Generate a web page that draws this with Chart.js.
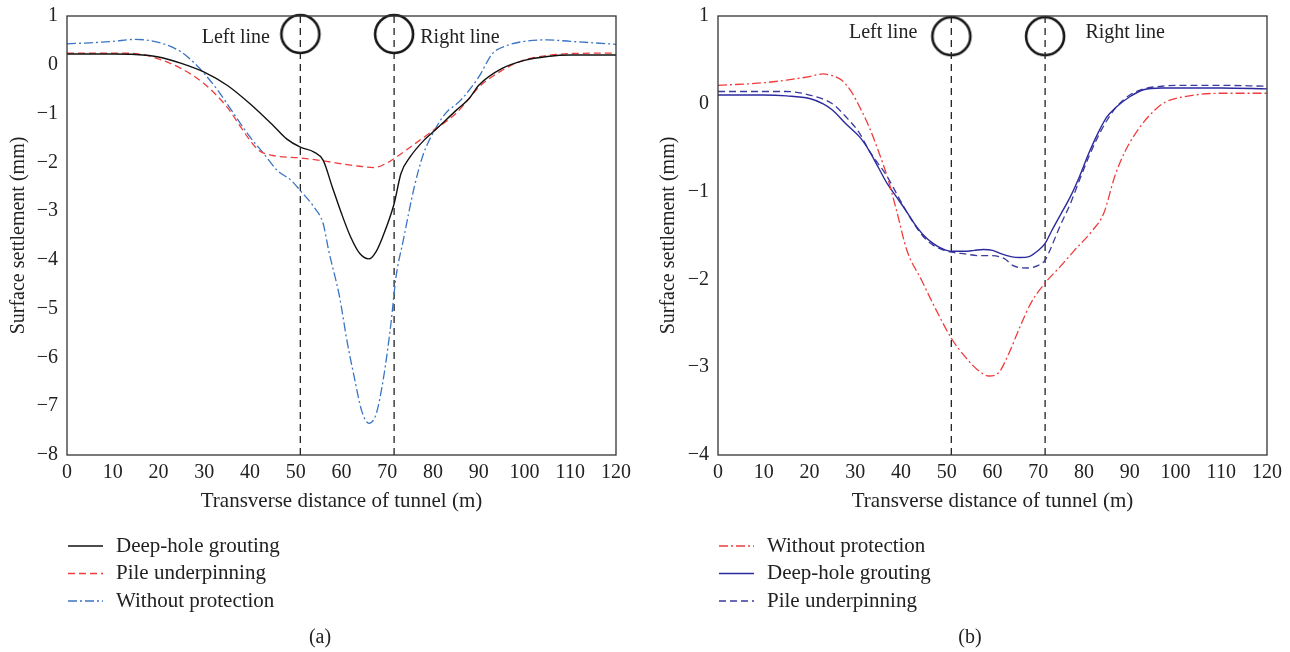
<!DOCTYPE html>
<html>
<head>
<meta charset="utf-8">
<script src="https://cdn.jsdelivr.net/npm/chart.js@4.4.1/dist/chart.umd.min.js"></script>
<style>
  body { margin: 0; background: #fff; }
  .box { position: absolute; top: 0; width: 640px; height: 652px; }
</style>
</head>
<body>
<div class="box" style="left:0"><canvas id="chartA" width="640" height="652"></canvas></div>
<div class="box" style="left:650px"><canvas id="chartB" width="640" height="652"></canvas></div>
<script>
// ---- (a) ----
var xA_deep = [0,10,15,20,25,30,35,40,45,48,51,54,56,58,60,62,64,66,67.5,69,71.5,73,75,78,80,85,88,90,95,100,105,110,120];
var yA_deep = [0.22,0.22,0.21,0.16,0.03,-0.15,-0.42,-0.80,-1.24,-1.52,-1.69,-1.79,-1.96,-2.51,-3.05,-3.53,-3.87,-3.98,-3.84,-3.53,-2.85,-2.23,-1.89,-1.55,-1.38,-0.94,-0.68,-0.42,-0.08,0.09,0.17,0.20,0.20];

var xA_pile = [0,10,15,20,25,30,35,38,40,42,45,51,56,60,64,67,70,72,75,80,85,88,90,95,100,105,110,120];
var yA_pile = [0.24,0.24,0.23,0.12,-0.08,-0.39,-0.87,-1.28,-1.55,-1.76,-1.86,-1.91,-1.97,-2.03,-2.08,-2.11,-2.01,-1.89,-1.69,-1.35,-1.00,-0.68,-0.46,-0.12,0.10,0.19,0.23,0.24];

var xA_none = [0,5,10,15,20,25,28,30,33,36,40,43,46,49,51,54,56,57.2,59.6,61.2,62.8,64.4,66,67.6,69.2,70.8,71.9,73.5,75.9,77.9,80.3,82.7,86,90,93,96.3,100,105,110,120];
var yA_none = [0.43,0.45,0.48,0.52,0.46,0.26,0.02,-0.18,-0.53,-0.94,-1.48,-1.82,-2.17,-2.37,-2.58,-2.92,-3.26,-3.81,-4.77,-5.66,-6.41,-7.09,-7.35,-7.15,-6.41,-5.31,-4.36,-3.6,-2.51,-1.83,-1.35,-1.00,-0.73,-0.25,0.23,0.40,0.48,0.51,0.48,0.42];

// ---- (b) ----
var xB_none = [0,10,15,20,23,25,27,29,31,33,35,37,39,41.3,44.5,47.7,51,54,57.2,59.2,61.2,63.6,66,68.4,71.5,74.7,77.9,81.9,84.3,86.7,89.1,92.3,95.5,97.8,101.8,109.8,120];
var yB_none = [0.21,0.24,0.27,0.31,0.34,0.32,0.27,0.15,-0.04,-0.26,-0.53,-0.83,-1.21,-1.67,-2.01,-2.35,-2.67,-2.88,-3.05,-3.10,-3.07,-2.84,-2.54,-2.27,-2.04,-1.86,-1.67,-1.44,-1.25,-0.83,-0.53,-0.26,-0.07,0.02,0.08,0.12,0.12];

var xB_deep = [0,10,15,20,23,25,28,31,33,35,37,39,41,43,45,47,49,51,54,56,58,60,62,64,66,68,70,71.5,73,75,77,79,81,83,85,87,90,93,97,100,110,120];
var yB_deep = [0.10,0.10,0.09,0.06,0.00,-0.07,-0.23,-0.38,-0.53,-0.72,-0.91,-1.06,-1.21,-1.37,-1.50,-1.59,-1.65,-1.68,-1.68,-1.67,-1.66,-1.67,-1.71,-1.74,-1.75,-1.74,-1.67,-1.59,-1.44,-1.25,-1.06,-0.83,-0.57,-0.34,-0.15,-0.04,0.08,0.16,0.18,0.18,0.18,0.17];

var xB_pile = [0,10,15,20,25,28,31,33,35,37,39,41,43,45,47,49,51,54,57,60,62.8,64.4,67.6,70,71.5,72.7,74.7,77,79,81,83,85,87,90,93,97,100,110,120];
var yB_pile = [0.14,0.14,0.14,0.10,0.00,-0.15,-0.34,-0.53,-0.68,-0.83,-1.02,-1.21,-1.38,-1.52,-1.61,-1.66,-1.69,-1.71,-1.73,-1.73,-1.77,-1.84,-1.87,-1.84,-1.78,-1.65,-1.40,-1.14,-0.87,-0.61,-0.38,-0.19,-0.04,0.10,0.17,0.20,0.21,0.21,0.20];

// tunnel lines and labels
var tunnelX = [51, 71.5];
var lineNames = ['Left line', 'Right line'];
var xTicks = [0,10,20,30,40,50,60,70,80,90,100,110,120];

var FONT = '"Liberation Serif", "DejaVu Serif", serif';

// ring marker for the tunnel positions (image point style keeps the chart area padding small)
var ring = document.createElement('canvas');
ring.width = 44; ring.height = 44;
(function() {
  var g = ring.getContext('2d');
  g.strokeStyle = '#151515'; g.lineWidth = 2.6;
  g.beginPath(); g.arc(22, 22, 19, 0, Math.PI * 2); g.stroke();
})();

function pts(xs, ys) {
  var out = [];
  for (var i = 0; i < xs.length; i++) out.push({x: xs[i], y: ys[i]});
  return out;
}

function series(label, xs, ys, color, dash, width) {
  return {
    label: label, data: pts(xs, ys), showLine: true,
    borderColor: color, borderDash: dash, borderWidth: width,
    pointRadius: 0, cubicInterpolationMode: 'monotone', legend: true
  };
}

function tunnelSets(yTop, yBot, yCircle) {
  var sets = [];
  tunnelX.forEach(function(x) {
    sets.push({data: [{x: x, y: yTop}, {x: x, y: yBot}], showLine: true,
      borderColor: '#222', borderDash: [7, 5], borderWidth: 1.3, pointRadius: 0});
  });
  sets.push({data: tunnelX.map(function(x) { return {x: x, y: yCircle}; }),
    showLine: false, pointStyle: ring, pointRadius: 2, borderWidth: 0, clip: false});
  return sets;
}

// frame, line names, legend and caption
var decor = {
  id: 'decor',
  afterDraw: function(chart) {
    var c = chart.ctx, a = chart.chartArea, o = chart.options.plugins.decor;
    c.save();
    c.strokeStyle = '#333'; c.lineWidth = 1.3; c.setLineDash([]);
    c.strokeRect(a.left, a.top, a.right - a.left, a.bottom - a.top);
    c.fillStyle = '#222';
    c.font = '20px ' + FONT;
    c.textAlign = 'center'; c.textBaseline = 'middle';
    o.notes.forEach(function(n) {
      c.fillText(n.text, chart.scales.x.getPixelForValue(n.x), chart.scales.y.getPixelForValue(n.y));
    });
    c.font = '21px ' + FONT;
    c.textAlign = 'left';
    var k = 0;
    chart.data.datasets.forEach(function(ds) {
      if (!ds.legend) return;
      var y = o.legendY + k * o.legendGap;
      c.strokeStyle = ds.borderColor; c.lineWidth = ds.borderWidth;
      c.setLineDash(ds.borderDash || []);
      c.beginPath(); c.moveTo(o.legendX, y); c.lineTo(o.legendX + 35, y); c.stroke();
      c.fillText(ds.label, o.legendX + 48, y);
      k++;
    });
    c.font = '20px ' + FONT;
    c.textAlign = 'center';
    c.fillText(o.caption, o.captionX, o.captionY);
    c.restore();
  }
};

function fmt(v) { return String(v).replace('-', '\u2212'); }

function makeChart(id, datasets, yMin, yMax, yWidth, padRight, notes, caption) {
  return new Chart(document.getElementById(id), {
    type: 'scatter',
    data: {datasets: datasets},
    plugins: [decor],
    options: {
      responsive: false, animation: false, events: [],
      layout: {padding: {left: 0, top: 16, right: padRight, bottom: 134}},
      plugins: {
        legend: {display: false}, tooltip: {enabled: false},
        decor: {notes: notes, legendX: yWidth + 1, legendY: 546, legendGap: 27.5,
                caption: caption, captionX: 320, captionY: 638}
      },
      scales: {
        x: {
          type: 'linear', min: 0, max: 120,
          afterBuildTicks: function(s) { s.ticks = xTicks.map(function(v) { return {value: v}; }); },
          grid: {display: false, drawTicks: false}, border: {display: false},
          ticks: {color: '#222', font: {family: FONT, size: 20}, padding: 6, maxRotation: 0},
          title: {display: true, text: 'Transverse distance of tunnel (m)', color: '#222',
                  font: {family: FONT, size: 21}},
          afterFit: function(s) { s.height = 63; s.paddingLeft = 0; s.paddingRight = 0; }
        },
        y: {
          min: yMin, max: yMax,
          grid: {display: false, drawTicks: false}, border: {display: false},
          ticks: {stepSize: 1, color: '#222', font: {family: FONT, size: 20}, padding: 9,
                  callback: function(v) { return fmt(v); }},
          title: {display: true, text: 'Surface settlement (mm)', color: '#222',
                  font: {family: FONT, size: 20}, padding: {top: 7, bottom: 0}},
          afterFit: function(s) { s.width = yWidth; s.paddingTop = 0; s.paddingBottom = 0; }
        }
      }
    }
  });
}

var setsA = [
  series('Deep-hole grouting', xA_deep, yA_deep, '#111111', [], 1.4),
  series('Pile underpinning', xA_pile, yA_pile, '#f03c3c', [7, 4], 1.3),
  series('Without protection', xA_none, yA_none, '#3a74c4', [9, 3, 2, 3], 1.3)
].concat(tunnelSets(1, -8, 0.63));

var setsB = [
  series('Without protection', xB_none, yB_none, '#f03c3c', [9, 3, 2, 3], 1.3),
  series('Deep-hole grouting', xB_deep, yB_deep, '#2c2a9e', [], 1.4),
  series('Pile underpinning', xB_pile, yB_pile, '#3b3a9e', [7, 4], 1.3)
].concat(tunnelSets(1, -4, 0.77));

var charts = [
  makeChart('chartA', setsA, -8, 1, 67, 24,
    [{text: lineNames[0], x: 36.9, y: 0.55}, {text: lineNames[1], x: 85.9, y: 0.55}], '(a)'),
  makeChart('chartB', setsB, -4, 1, 68, 23,
    [{text: lineNames[0], x: 36.1, y: 0.81}, {text: lineNames[1], x: 89.0, y: 0.81}], '(b)')
];
</script>
</body>
</html>
